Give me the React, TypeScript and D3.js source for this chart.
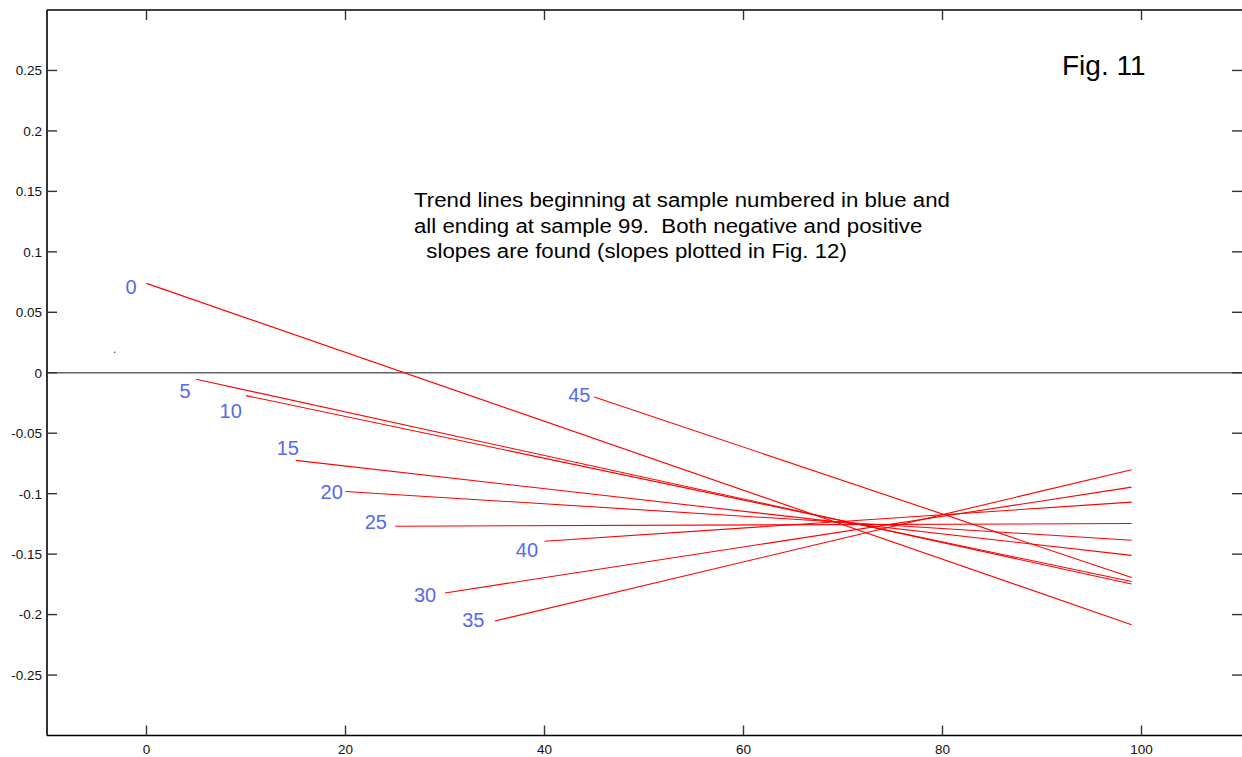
import React from "react";
import * as d3 from "d3";

// Trend lines: each starts at a sample index and ends at sample 99
const startSamples = [0, 5, 10, 15, 20, 25, 30, 35, 40, 45];
const endSample = 99;
const startValues = [0.0739, -0.0054, -0.0189, -0.0725, -0.0982, -0.1269, -0.1821, -0.2053, -0.1393, -0.02];
const endValues = [-0.2084, -0.1747, -0.1727, -0.151, -0.1385, -0.1247, -0.0946, -0.0802, -0.107, -0.1694];

// Blue sample-number labels, placed in data coordinates (label centre)
const labelX = [-1.56, 3.87, 8.46, 14.2, 18.61, 23.04, 27.99, 32.84, 38.24, 43.5];
const labelY = [0.0708, -0.0151, -0.0316, -0.062, -0.0988, -0.123, -0.1833, -0.2045, -0.1462, -0.0186];

// Stray dot in the plot
const strayPoints = [{ x: -3.2, y: 0.017 }];

const xTicks = [0, 20, 40, 60, 80, 100];
const yTicks = [0.25, 0.2, 0.15, 0.1, 0.05, 0, -0.05, -0.1, -0.15, -0.2, -0.25];

const noteLines = [
  "Trend lines beginning at sample numbered in blue and",
  "all ending at sample 99.  Both negative and positive",
  "  slopes are found (slopes plotted in Fig. 12)",
];
const figTitle = "Fig. 11";

const W = 1242;
const H = 757;
const left = 47;
const right = 1243;
const top = 10;
const bottom = 735.5;

export default function App() {
  const x = d3.scaleLinear().domain([-10, 110.2]).range([left, right]);
  const y = d3.scaleLinear().domain([-0.3, 0.3]).range([bottom, top]);
  const fmtY = (v: number) => String(+v.toFixed(2));
  const font = "Arial, 'Liberation Sans', sans-serif";
  const blue = "#5569f0";
  const tickLen = 10;

  return (
    <svg
      width={W}
      height={H}
      style={{ position: "absolute", left: 0, top: 0, background: "#fff", display: "block" }}
      fontFamily={font}
    >
      <rect x={0} y={0} width={W} height={H} fill="#fff" />

      {/* zero reference line */}
      <line x1={left} x2={right} y1={y(0)} y2={y(0)} stroke="#666" strokeWidth={1.6} />

      {/* trend lines */}
      {startSamples.map((s, i) => (
        <line
          key={"l" + s}
          x1={x(s)}
          y1={y(startValues[i])}
          x2={x(endSample)}
          y2={y(endValues[i])}
          stroke="#ff0000"
          strokeWidth={1.1}
        />
      ))}

      {/* sample labels */}
      {startSamples.map((s, i) => (
        <text
          key={"t" + s}
          x={x(labelX[i])}
          y={y(labelY[i])}
          dy="0.36em"
          textAnchor="middle"
          fontSize={20}
          fill={blue}
        >
          {s}
        </text>
      ))}

      {strayPoints.map((p, i) => (
        <rect key={"p" + i} x={x(p.x) - 0.5} y={y(p.y) - 0.5} width={1.2} height={1.2} fill="#222" />
      ))}

      {/* frame */}
      <line x1={left} x2={left} y1={top} y2={bottom} stroke="#000" strokeWidth={1.6} />
      <line x1={left} x2={right} y1={top} y2={top} stroke="#000" strokeWidth={1.6} />
      <line x1={left} x2={right} y1={bottom} y2={bottom} stroke="#000" strokeWidth={1.6} />
      <line x1={right} x2={right} y1={top} y2={bottom} stroke="#000" strokeWidth={1.6} />

      {/* x ticks */}
      {xTicks.map((t) => (
        <g key={"xt" + t}>
          <line x1={x(t)} x2={x(t)} y1={bottom} y2={bottom - tickLen} stroke="#333" strokeWidth={1.4} />
          <line x1={x(t)} x2={x(t)} y1={top} y2={top + tickLen} stroke="#333" strokeWidth={1.4} />
          <text x={x(t)} y={bottom + 18} textAnchor="middle" fontSize={13.5} fill="#111">
            {t}
          </text>
        </g>
      ))}

      {/* y ticks */}
      {yTicks.map((t) => (
        <g key={"yt" + t}>
          <line x1={left} x2={left + tickLen} y1={y(t)} y2={y(t)} stroke="#333" strokeWidth={1.4} />
          <line x1={W - tickLen} x2={W} y1={y(t)} y2={y(t)} stroke="#333" strokeWidth={1.4} />
          <text x={left - 5} y={y(t)} dy="0.36em" textAnchor="end" fontSize={13.5} fill="#111">
            {fmtY(t)}
          </text>
        </g>
      ))}

      {/* annotations */}
      <text x={1062} y={75} fontSize={28} fill="#000">
        {figTitle}
      </text>
      {noteLines.map((line, i) => (
        <text
          key={"n" + i}
          transform={`translate(414, ${207 + i * 25.5}) scale(1.06, 1)`}
          fontSize={21}
          fill="#000"
          style={{ whiteSpace: "pre" }}
        >
          {line}
        </text>
      ))}
    </svg>
  );
}
